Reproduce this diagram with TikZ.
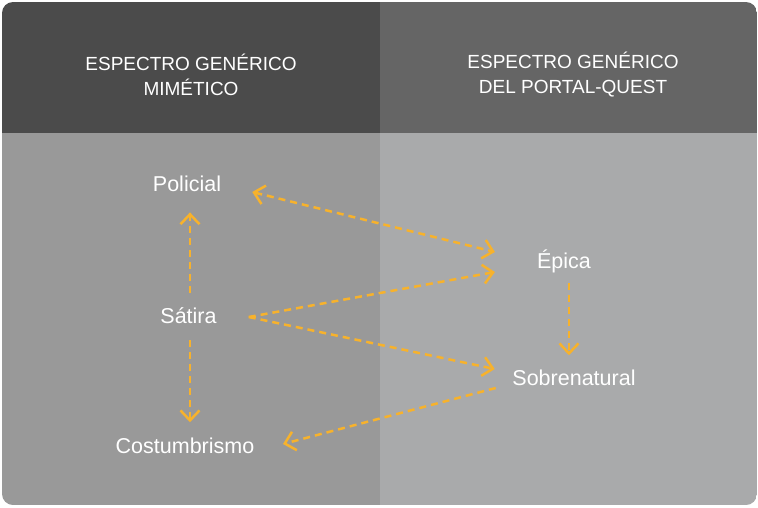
\documentclass[tikz,border=0pt]{standalone}
\usepackage{fontspec}
\setmainfont{Liberation Sans}
\usetikzlibrary{arrows.meta}

\definecolor{headleft}{HTML}{4B4B4B}
\definecolor{headright}{HTML}{656565}
\definecolor{bodyleft}{HTML}{999999}
\definecolor{bodyright}{HTML}{A9AAAB}
\definecolor{linkyellow}{HTML}{F7B22C}

\tikzset{
    heading/.style={text=white, font=\fontsize{19}{25}\selectfont, align=center},
    genre/.style={text=white, font=\fontsize{21.5}{25}\selectfont, inner sep=0pt, anchor=base},
    barb/.tip={Straight Barb[length=10pt,width=19pt]},
    link/.style={linkyellow, line width=2.5pt, dash pattern=on 7pt off 5pt, -barb},
}

\begin{document}
\begin{tikzpicture}[x=1pt, y=-1pt]
    \useasboundingbox (0,0) rectangle (758,507);

    % Draw the two columns inside the rounded frame
    \begin{scope}
        \clip[rounded corners=11pt] (2,2) rectangle (757,505);
        \fill[headleft] (2,2) rectangle (380,133);
        \fill[headright] (380,2) rectangle (757,133);
        \fill[bodyleft] (2,133) rectangle (380,505);
        \fill[bodyright] (380,133) rectangle (757,505);
    \end{scope}

    % Column headings
    \node[heading] (mimetico) at (191,75) {ESPECTRO GENÉRICO\\MIMÉTICO};
    \node[heading] (portal) at (573,75) {ESPECTRO GENÉRICO\\DEL PORTAL-QUEST};

    % Genres
    \node[genre] (policial) at (187,191) {Policial};
    \node[genre] (satira) at (188.5,323) {Sátira};
    \node[genre] (costumbrismo) at (185,453) {Costumbrismo};
    \node[genre] (epica) at (564,268) {Épica};
    \node[genre] (sobrenatural) at (574,385) {Sobrenatural};

    % Draw the links
    \draw[link, barb-barb]
        ([xshift=31pt,yshift=-1pt]policial.base east) -- ([xshift=-42pt,yshift=16pt]epica.base west);
    \draw[link] ([xshift=32pt,yshift=6pt]satira.base east) -- ([xshift=-42pt,yshift=-4pt]epica.base west);
    \draw[link] ([xshift=32pt,yshift=6pt]satira.base east) -- ([xshift=-17.5pt,yshift=16pt]sobrenatural.base west);
    \draw[link] ([xshift=1.5pt,yshift=14pt]satira.north) -- ([xshift=3pt,yshift=-21pt]policial.south);
    \draw[link] ([xshift=1.5pt,yshift=-17pt]satira.south) -- ([xshift=5pt,yshift=15pt]costumbrismo.north);
    \draw[link] ([xshift=5pt,yshift=-10.5pt]epica.south) -- ([xshift=-5pt,yshift=14pt]sobrenatural.north);
    \draw[link] ([xshift=-16.5pt,yshift=-3pt]sobrenatural.base west) -- ([xshift=28.5pt,yshift=9pt]costumbrismo.base east);
\end{tikzpicture}
\end{document}
